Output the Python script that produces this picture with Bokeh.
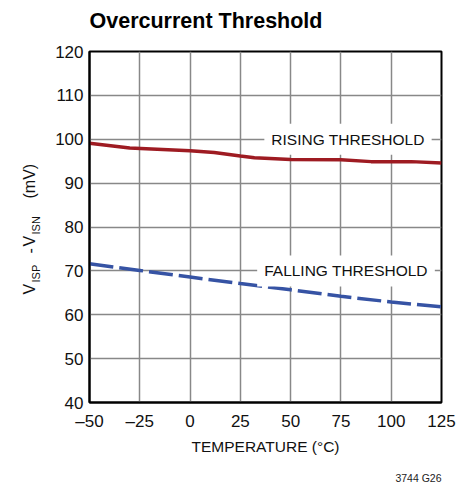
import numpy as np
from bokeh.plotting import figure
from bokeh.layouts import row
from bokeh.models import Label, Range1d, FixedTicker, Title
from bokeh.core.properties import value
from bokeh.embed import file_html
from bokeh.resources import INLINE

# ---- data ----
rising_temp = [-50, -30, 0, 12, 25, 32, 50, 75, 90, 110, 125]
rising_mv = [99.1, 98.0, 97.4, 97.0, 96.2, 95.8, 95.4, 95.3, 94.9, 94.9, 94.6]
falling_temp = [-50, -25, 0, 25, 50, 75, 100, 125]
falling_mv = [71.6, 70.1, 68.6, 67.1, 65.7, 64.2, 62.9, 61.8]
x_ticks = [-50, -25, 0, 25, 50, 75, 100, 125]
x_tick_labels = ["\u201350", "\u201325", "0", "25", "50", "75", "100", "125"]
y_ticks = [40, 50, 60, 70, 80, 90, 100, 110, 120]

# y-axis title pieces (main text and subscripts)
ylab_main = ["V", "-", "V", "(mV)"]
ylab_sub = ["ISP", "ISN"]

XMIN, XMAX, YMIN, YMAX = -50, 125, 40, 120
W, H = 466, 486
LW = 45                      # width of the y-title strip
FL, FR, FT, FB = 89, 441, 51, 402  # frame edges in page px

FONT = "Liberation Sans"

# ---- y-axis title strip (frame aligned with the main frame; y = page px from bottom) ----
lab = figure(width=LW, height=H, output_backend="svg", toolbar_location=None,
             x_range=Range1d(0, LW), y_range=Range1d(H - FB, H - FT),
             x_axis_type=None, y_axis_type=None,
             min_border_left=0, min_border_right=0, min_border_top=FT,
             min_border_bottom=H - FB)
lab.outline_line_color = None
lab.grid.visible = False
lab.background_fill_color = "white"
lab.border_fill_color = "white"
lab.text(x=[29, 29, 29, 29], y=[H - 294, H - 253, H - 246, H - 198], text=ylab_main,
         angle=np.pi / 2, text_align="left", text_baseline="middle",
         text_font=value(FONT), text_font_size="16px", text_color="#111111")
lab.text(x=[35, 35], y=[H - 282, H - 234], text=ylab_sub,
         angle=np.pi / 2, text_align="left", text_baseline="middle",
         text_font=value(FONT), text_font_size="11px", text_color="#111111")

# ---- main chart ----
p = figure(width=W - LW, height=H, output_backend="svg", toolbar_location=None,
           x_range=Range1d(XMIN, XMAX), y_range=Range1d(YMIN, YMAX),
           min_border_left=FL - LW, min_border_right=W - FR,
           min_border_top=FT, min_border_bottom=H - FB)
p.title.text = ""

# spacer + title above the frame
p.add_layout(Title(text=" ", text_font_size="1px", standoff=14), "above")
p.add_layout(Title(text="Overcurrent Threshold", align="left", text_font=FONT,
                   text_font_size="21.5px", text_font_style="bold",
                   text_color="black", standoff=4), "above")

p.outline_line_color = "black"
p.outline_line_width = 2
p.background_fill_color = "white"
p.border_fill_color = "white"

for ax in (p.xaxis[0], p.yaxis[0]):
    ax.axis_line_color = "black"
    ax.axis_line_width = 2
    ax.major_tick_out = 0
    ax.major_tick_in = 0
    ax.minor_tick_out = 0
    ax.minor_tick_in = 0
    ax.major_label_text_font = FONT
    ax.major_label_text_font_size = "17px"
    ax.major_label_text_color = "#111111"

p.xaxis.ticker = FixedTicker(ticks=x_ticks)
p.yaxis.ticker = FixedTicker(ticks=y_ticks)
p.xaxis.major_label_overrides = {t: l for t, l in zip(x_ticks, x_tick_labels)}
p.xaxis.major_label_standoff = 9
p.yaxis.major_label_standoff = 6
p.xaxis.axis_label = "TEMPERATURE (\u00b0C)"
p.xaxis.axis_label_text_font = FONT
p.xaxis.axis_label_text_font_size = "15.5px"
p.xaxis.axis_label_text_font_style = "normal"
p.xaxis.axis_label_text_color = "#111111"
p.xaxis.axis_label_standoff = 4

for g in (p.xgrid[0], p.ygrid[0]):
    g.grid_line_color = "#888888"
    g.grid_line_width = 1.5
p.xgrid.ticker = FixedTicker(ticks=x_ticks)
p.ygrid.ticker = FixedTicker(ticks=y_ticks)

p.line(rising_temp, rising_mv, line_color="#9E1B22", line_width=3.5)
p.line(falling_temp, falling_mv, line_color="#3653A4", line_width=3.5,
       line_dash="24 6")


def dx(px):
    return XMIN + (px - FL) * (XMAX - XMIN) / (FR - FL)


# curve labels with white boxes
p.add_layout(Label(x=dx(347.5), y=100, text="RISING THRESHOLD", text_font=FONT,
                   text_font_size="15.5px", text_align="center", text_baseline="middle",
                   text_color="#111111", background_fill_color="white", padding=7))
p.add_layout(Label(x=dx(345.5), y=70, text="FALLING THRESHOLD", text_font=FONT,
                   text_font_size="15.5px", text_align="center", text_baseline="middle",
                   text_color="#111111", background_fill_color="white", padding=7))

# spacer + footnote below the axis
p.add_layout(Title(text=" ", text_font_size="1px", standoff=7), "below")
p.add_layout(Title(text="3744 G26", align="right", text_font=FONT,
                   text_font_size="10.5px", text_font_style="normal",
                   text_color="#222222", standoff=5), "below")

layout = row(lab, p, spacing=0)
open("out.html", "w").write(file_html(layout, INLINE))
